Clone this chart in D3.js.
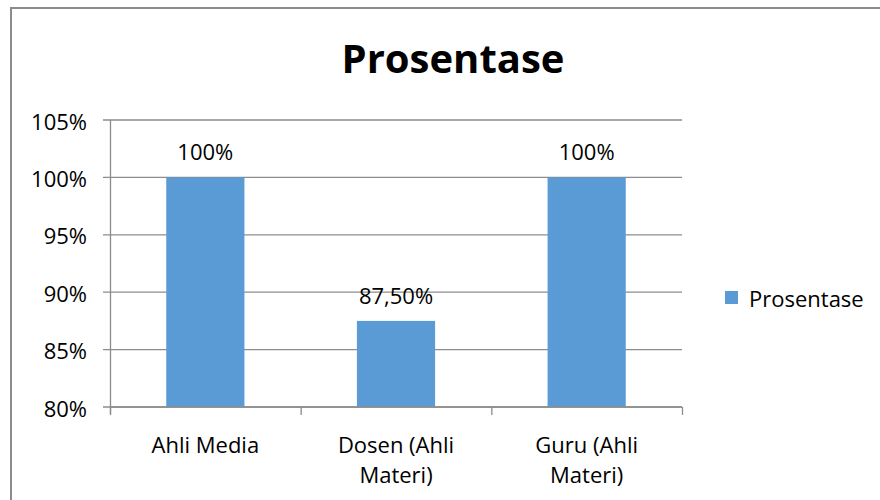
<!DOCTYPE html>
<html lang="id">
<head>
<meta charset="UTF-8">
<title>Prosentase</title>
<script src="https://cdn.jsdelivr.net/npm/d3@7"></script>
<style>
  body { margin: 0; background: #fff; }
  text { font-family: "Open Sans", sans-serif; fill: #000; }
</style>
</head>
<body>
<script>
// data
var categories = ["Ahli Media", "Dosen (Ahli Materi)", "Guru (Ahli Materi)"];
var values = [1.00, 0.875, 1.00];
var valueLabels = ["100%", "87,50%", "100%"];
var yTicks = [0.80, 0.85, 0.90, 0.95, 1.00, 1.05];
var seriesName = "Prosentase";

var w = 880, h = 500;
var plotLeft = 110, plotRight = 682, plotTop = 120, plotBottom = 407;
var fontSize = "22px";

var svg = d3.select("body").append("svg")
  .attr("width", w)
  .attr("height", h);

// outer chart border (runs off the right and bottom edge)
svg.append("rect")
  .attr("x", 11).attr("y", 8)
  .attr("width", w + 20).attr("height", h + 20)
  .attr("fill", "none")
  .attr("stroke", "#8c8c8c")
  .attr("stroke-width", 2);

var x = d3.scaleBand()
  .domain(categories)
  .range([plotLeft, plotRight])
  .paddingInner(0.59)
  .paddingOuter(0.295);

var xOuter = d3.scaleBand().domain(categories).range([plotLeft, plotRight]);

var y = d3.scaleLinear()
  .domain([0.80, 1.05])
  .range([plotBottom, plotTop]);

// gridlines
svg.append("g")
  .selectAll("line")
  .data(yTicks)
  .enter()
  .append("line")
  .attr("x1", plotLeft - 7)
  .attr("x2", plotRight)
  .attr("y1", function(d) { return y(d); })
  .attr("y2", function(d) { return y(d); })
  .attr("stroke", "#8c8c8c")
  .attr("stroke-width", 1.3);

// y axis line
svg.append("line")
  .attr("x1", plotLeft + 0.5).attr("x2", plotLeft + 0.5)
  .attr("y1", plotTop).attr("y2", plotBottom + 7)
  .attr("stroke", "#8c8c8c")
  .attr("stroke-width", 1.3);

// y tick labels
svg.append("g")
  .selectAll("text")
  .data(yTicks)
  .enter()
  .append("text")
  .attr("x", 87)
  .attr("y", function(d) { return y(d) + 9.5; })
  .attr("text-anchor", "end")
  .style("font-size", fontSize)
  .text(function(d) { return Math.round(d * 100) + "%"; });

// bars
svg.append("g")
  .selectAll("rect")
  .data(values)
  .enter()
  .append("rect")
  .attr("x", function(d, i) { return x(categories[i]); })
  .attr("width", x.bandwidth())
  .attr("y", function(d) { return y(d); })
  .attr("height", function(d) { return plotBottom - y(d); })
  .attr("fill", "#5b9bd5");

// value labels
svg.append("g")
  .selectAll("text")
  .data(values)
  .enter()
  .append("text")
  .attr("x", function(d, i) { return x(categories[i]) + x.bandwidth() / 2; })
  .attr("y", function(d) { return y(d) - 17; })
  .attr("text-anchor", "middle")
  .style("font-size", fontSize)
  .text(function(d, i) { return valueLabels[i]; });

// x axis line + ticks between categories
svg.append("line")
  .attr("x1", plotLeft).attr("x2", plotRight)
  .attr("y1", plotBottom).attr("y2", plotBottom)
  .attr("stroke", "#8c8c8c")
  .attr("stroke-width", 1.3);

var bounds = categories.map(function(c) { return xOuter(c); }).concat([plotRight]);
svg.append("g")
  .selectAll("line")
  .data(bounds)
  .enter()
  .append("line")
  .attr("x1", function(d) { return d + 0.5; })
  .attr("x2", function(d) { return d + 0.5; })
  .attr("y1", plotBottom)
  .attr("y2", plotBottom + 8)
  .attr("stroke", "#8c8c8c")
  .attr("stroke-width", 1.3);

// category labels, wrapped
var catText = svg.append("g")
  .selectAll("text")
  .data(categories)
  .enter()
  .append("text")
  .attr("x", function(d) { return xOuter(d) + xOuter.bandwidth() / 2; })
  .attr("y", 453)
  .attr("text-anchor", "middle")
  .style("font-size", fontSize)
  .text(function(d) { return d; });

catText.each(function(d) {
  var t = d3.select(this);
  var cx = t.attr("x");
  var words = d.split(" ");
  t.text(null);
  var line = [];
  var tspan = t.append("tspan").attr("x", cx).attr("dy", 0);
  words.forEach(function(word) {
    line.push(word);
    tspan.text(line.join(" "));
    if (tspan.node().getComputedTextLength() > 150 && line.length > 1) {
      line.pop();
      tspan.text(line.join(" "));
      line = [word];
      tspan = t.append("tspan").attr("x", cx).attr("dy", "30px").text(word);
    }
  });
});

// title
svg.append("text")
  .attr("x", 453)
  .attr("y", 72.5)
  .attr("text-anchor", "middle")
  .style("font-size", "40px")
  .style("font-weight", "bold")
  .text(seriesName);

// legend
var legend = svg.append("g").attr("transform", "translate(725,291)");
legend.append("rect")
  .attr("width", 13).attr("height", 13)
  .attr("fill", "#5b9bd5");
legend.append("text")
  .attr("x", 24)
  .attr("y", 16)
  .style("font-size", fontSize)
  .text(seriesName);
</script>
</body>
</html>
